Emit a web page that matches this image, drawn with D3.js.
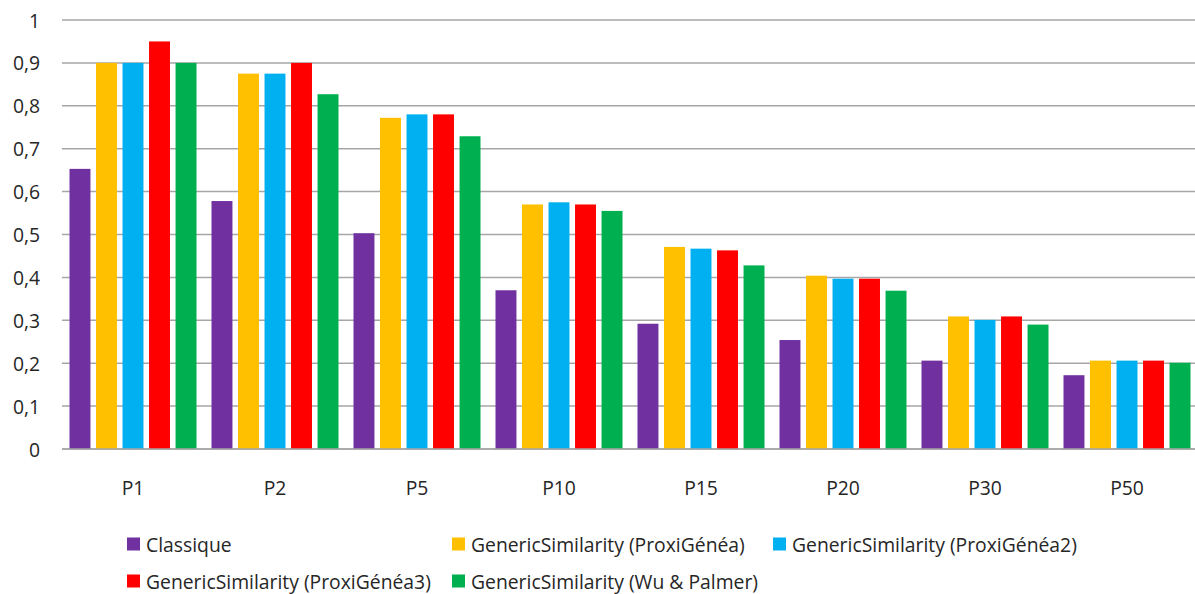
<!DOCTYPE html>
<html>
<head>
<meta charset="utf-8">
<script src="https://cdn.jsdelivr.net/npm/d3@7"></script>
<style>
  html, body { margin: 0; padding: 0; background: #fff; }
  svg { display: block; }
  text { font-family: "Open Sans", "Noto Sans", sans-serif; fill: #262626; }
</style>
</head>
<body>
<svg id="chart" width="1195" height="594"></svg>
<script>
const categories = ["P1", "P2", "P5", "P10", "P15", "P20", "P30", "P50"];
const seriesNames = [
  "Classique",
  "GenericSimilarity (ProxiGénéa)",
  "GenericSimilarity (ProxiGénéa2)",
  "GenericSimilarity (ProxiGénéa3)",
  "GenericSimilarity (Wu & Palmer)"
];
const seriesColors = ["#7030A0", "#FFC000", "#00B0F0", "#FF0000", "#00B050"];
const classique   = [0.653, 0.578, 0.503, 0.370, 0.292, 0.254, 0.206, 0.172];
const proxiGenea  = [0.900, 0.875, 0.772, 0.570, 0.471, 0.404, 0.309, 0.206];
const proxiGenea2 = [0.900, 0.875, 0.780, 0.575, 0.467, 0.397, 0.301, 0.206];
const proxiGenea3 = [0.950, 0.900, 0.780, 0.570, 0.463, 0.397, 0.309, 0.206];
const wuPalmer    = [0.900, 0.827, 0.729, 0.555, 0.428, 0.369, 0.290, 0.201];
const seriesValues = [classique, proxiGenea, proxiGenea2, proxiGenea3, wuPalmer];
const yTicks = [0, 0.1, 0.2, 0.3, 0.4, 0.5, 0.6, 0.7, 0.8, 0.9, 1];

const svg = d3.select("#chart");
const plotLeft = 62, plotRight = 1198, plotTop = 20, plotBottom = 449;

const x0 = d3.scaleBand().domain(categories).range([plotLeft, plotRight]).padding(0);
const groupPad = 7.5;
const x1 = d3.scaleBand().domain(seriesNames)
  .range([groupPad, x0.bandwidth() - groupPad]).paddingInner(0.21).paddingOuter(0);
const y = d3.scaleLinear().domain([0, 1]).range([plotBottom, plotTop]);

// font size fitted so legend label width matches reference
const probe = svg.append("text").attr("font-size", 16).text("GenericSimilarity (ProxiGénéa)");
const w16 = probe.node().getComputedTextLength();
probe.remove();
const fs = 16 * 274 / w16;

// gridlines
svg.append("g").selectAll("line").data(yTicks).join("line")
  .attr("x1", plotLeft).attr("x2", 1195)
  .attr("y1", d => y(d)).attr("y2", d => y(d))
  .attr("stroke", "#a6a6a6").attr("stroke-width", 1.5);

// y labels
const fmt = d => d3.format(".1~f")(d).replace(".", ",");
svg.append("g").selectAll("text").data(yTicks).join("text")
  .attr("x", 40).attr("y", d => y(d))
  .attr("text-anchor", "end").attr("dominant-baseline", "central")
  .attr("font-size", fs).text(fmt);

// bars
const groups = svg.append("g").selectAll("g").data(categories).join("g")
  .attr("transform", c => `translate(${x0(c)},0)`);
groups.selectAll("rect")
  .data((c, i) => seriesNames.map((s, j) => ({ s, j, v: seriesValues[j][i] })))
  .join("rect")
  .attr("x", d => x1(d.s))
  .attr("width", x1.bandwidth())
  .attr("y", d => y(d.v))
  .attr("height", d => y(0) - y(d.v))
  .attr("fill", d => seriesColors[d.j]);

// baseline axis
svg.append("line").attr("x1", plotLeft).attr("x2", 1195)
  .attr("y1", y(0)).attr("y2", y(0))
  .attr("stroke", "#a6a6a6").attr("stroke-width", 1.5);

// x labels
svg.append("g").selectAll("text").data(categories).join("text")
  .attr("x", c => x0(c) + x0.bandwidth() / 2).attr("y", 487)
  .attr("text-anchor", "middle").attr("dominant-baseline", "central")
  .attr("font-size", fs).text(c => c);

// legend
const legendPos = [
  [127, 544], [452, 544], [773, 544],
  [127, 581], [452, 581]
];
const lg = svg.append("g").selectAll("g").data(seriesNames).join("g")
  .attr("transform", (d, i) => `translate(${legendPos[i][0]},${legendPos[i][1]})`);
lg.append("rect").attr("x", 0).attr("y", -6.5).attr("width", 13).attr("height", 13)
  .attr("fill", (d, i) => seriesColors[i]);
lg.append("text").attr("x", 19).attr("y", 0).attr("dominant-baseline", "central")
  .attr("font-size", fs).text(d => d);
</script>
</body>
</html>
